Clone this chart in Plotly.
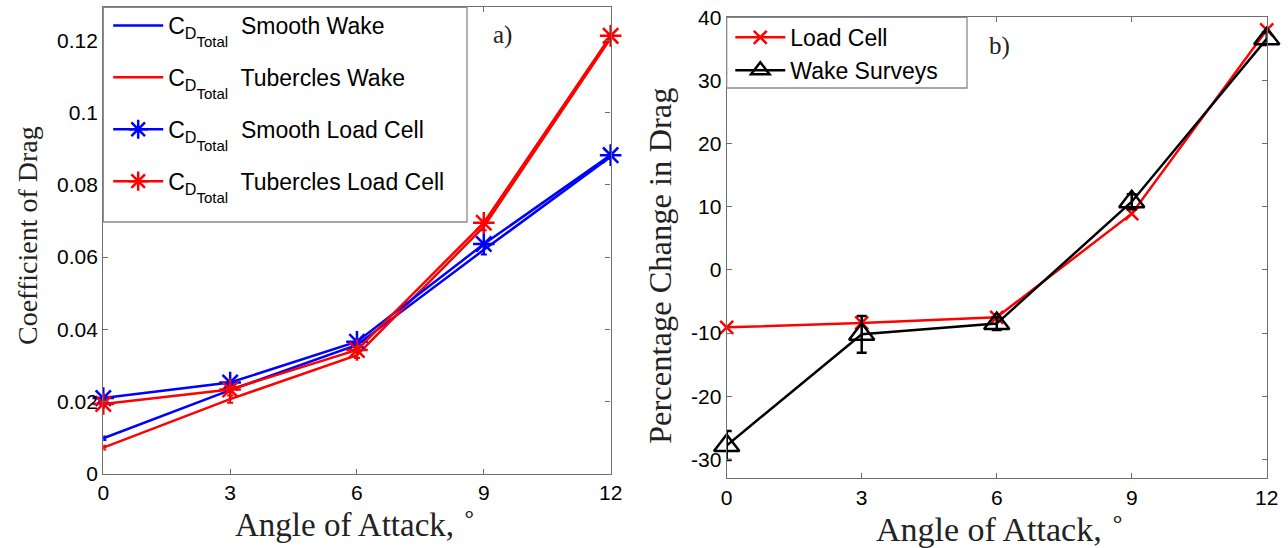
import plotly.graph_objects as go

# Angle of attack (degrees)
aoa = [0, 3, 6, 9, 12]

# (a) Drag coefficient
cd_smooth_wake = [0.0099, 0.0232, 0.0357, 0.0620, 0.0878]
cd_smooth_wake_err = [0.0005, 0.0006, 0.0008, 0.0013, 0.0006]
cd_tub_wake = [0.0073, 0.0207, 0.0329, 0.0684, 0.1205]
cd_tub_wake_err = [0.0005, 0.0010, 0.0008, 0.0010, 0.0006]
cd_smooth_lc = [0.0210, 0.0253, 0.0366, 0.0636, 0.0882]
cd_tub_lc = [0.0194, 0.0234, 0.0343, 0.0695, 0.1212]

# (b) Percentage change in drag
pct_load_cell = [-9.1, -8.4, -7.5, 8.9, 38.0]
pct_wake = [-27.8, -10.2, -8.5, 10.8, 36.6]
pct_wake_err = [2.3, 2.9, 1.0, 1.2, 1.0]

x_ticks = [0, 3, 6, 9, 12]
cd_ticks = [0, 0.02, 0.04, 0.06, 0.08, 0.1, 0.12]
cd_tick_text = ["0", "0.02", "0.04", "0.06", "0.08", "0.1", "0.12"]
pct_ticks = [-30, -20, -10, 0, 10, 20, 30, 40]
pct_tick_text = ["-30", "-20", "-10", "0", "10", "20", "30", "40"]

BLUE = "#0000ff"
RED = "#ff0000"
SANS = "Liberation Sans, Arial, sans-serif"
SERIF = "Liberation Serif, Times New Roman, serif"
TITLE_COLOR = "#222"
CD_LBL = ("C<sub>D</sub><span style='font-size:15px;baseline-shift:-13px'>Total</span>"
          "&nbsp;")

W, H = 1288, 548

fig = go.Figure()

def wake_trace(y, err, color, name, group):
    return go.Scatter(
        x=aoa, y=y, mode="lines", name=CD_LBL + " " + name,
        line=dict(color=color, width=2.5), cliponaxis=False,
        error_y=dict(type="data", array=err, color=color, thickness=2, width=3),
        xaxis="x", yaxis="y", legend="legend", legendgroup=group,
    )

def lc_trace(y, color, name, group):
    return go.Scatter(
        x=aoa, y=y, mode="lines+markers", name=CD_LBL + " " + name,
        line=dict(color=color, width=2.5), cliponaxis=False,
        marker=dict(symbol="asterisk-open", size=18, color=color,
                    line=dict(color=color, width=2.5)),
        xaxis="x", yaxis="y", legend="legend", legendgroup=group,
    )

fig.add_trace(wake_trace(cd_smooth_wake, cd_smooth_wake_err, BLUE, "Smooth Wake", "g1"))
fig.add_trace(wake_trace(cd_tub_wake, cd_tub_wake_err, RED, "Tubercles Wake", "g2"))
fig.add_trace(lc_trace(cd_smooth_lc, BLUE, "Smooth Load Cell", "g3"))
fig.add_trace(lc_trace(cd_tub_lc, RED, "Tubercles Load Cell", "g4"))

fig.add_trace(go.Scatter(
    x=aoa, y=pct_load_cell, mode="lines+markers", name="Load Cell",
    line=dict(color=RED, width=2.5), cliponaxis=False,
    marker=dict(symbol="x-thin-open", size=13, color=RED, line=dict(color=RED, width=2.5)),
    xaxis="x2", yaxis="y2", legend="legend2",
))
fig.add_trace(go.Scatter(
    x=aoa, y=pct_wake, mode="lines+markers", name="Wake Surveys",
    line=dict(color="black", width=2.5), cliponaxis=False,
    marker=dict(symbol="triangle-up-open", size=22, color="black",
                line=dict(color="black", width=2.5)),
    error_y=dict(type="data", array=pct_wake_err, color="black", thickness=2.5, width=5),
    xaxis="x2", yaxis="y2", legend="legend2",
))

axis_common = dict(
    showline=True, linecolor="#6e6e6e", linewidth=1.3, mirror="allticks",
    ticks="inside", ticklen=5, tickcolor="#6e6e6e", tickwidth=1,
    showgrid=False, zeroline=False, automargin=False,
    tickfont=dict(family=SANS, size=21, color="black"),
)

def px_title(text, x, y, size, angle=0):
    """Axis title placed at a pixel position of the page."""
    return dict(text=text, x=x / W, y=1 - y / H, xref="paper", yref="paper",
                xanchor="center", yanchor="middle", showarrow=False,
                textangle=angle, font=dict(family=SERIF, size=size, color=TITLE_COLOR))

def px_box(x0, y0, x1, y1):
    return dict(type="rect", xref="paper", yref="paper", layer="above",
                x0=x0 / W, x1=x1 / W, y0=1 - y1 / H, y1=1 - y0 / H,
                fillcolor="white", line=dict(color="#8a8a8a", width=1.3))

fig.update_layout(
    width=W, height=H,
    margin=dict(l=0, r=0, t=0, b=0),
    paper_bgcolor="white", plot_bgcolor="white",
    xaxis=dict(domain=[0.0802, 0.4741], range=[0, 12], tickvals=x_ticks,
               anchor="y", **axis_common),
    yaxis=dict(domain=[0.135, 0.9867], range=[0, 0.1291], tickvals=cd_ticks,
               ticktext=cd_tick_text, anchor="x", **axis_common),
    xaxis2=dict(domain=[0.5642, 0.9835], range=[0, 12], tickvals=x_ticks,
                anchor="y2", **axis_common),
    yaxis2=dict(domain=[0.1272, 0.9684], range=[-33, 40], tickvals=pct_ticks,
                ticktext=pct_tick_text, anchor="x2", **axis_common),
    legend=dict(x=0.084, y=0.9927, xanchor="left", yanchor="top",
                bgcolor="rgba(0,0,0,0)", borderwidth=0,
                font=dict(family=SANS, size=23, color="black"),
                tracegroupgap=19, itemwidth=50),
    legend2=dict(x=0.567, y=0.971, xanchor="left", yanchor="top",
                 bgcolor="rgba(0,0,0,0)", borderwidth=0,
                 font=dict(family=SANS, size=23, color="black"), itemwidth=50),
    shapes=[px_box(103.3, 7.3, 467, 222), px_box(726.7, 17.3, 967, 88)],
    annotations=[
        px_title("Angle of Attack, <sup>∘</sup>", 355, 522, 33),
        px_title("Coefficient of Drag", 27, 236, 28, -90),
        px_title("Angle of Attack, <sup>∘</sup>", 1000, 527, 34),
        px_title("Percentage Change in Drag", 660, 266, 32.5, -90),
        dict(text="a)", x=9.45, y=0.1214, xref="x", yref="y", showarrow=False,
             font=dict(family=SERIF, size=25, color=TITLE_COLOR)),
        dict(text="b)", x=6.07, y=35.4, xref="x2", yref="y2", showarrow=False,
             font=dict(family=SERIF, size=25, color=TITLE_COLOR)),
    ],
)

fig.write_html("out.html")
